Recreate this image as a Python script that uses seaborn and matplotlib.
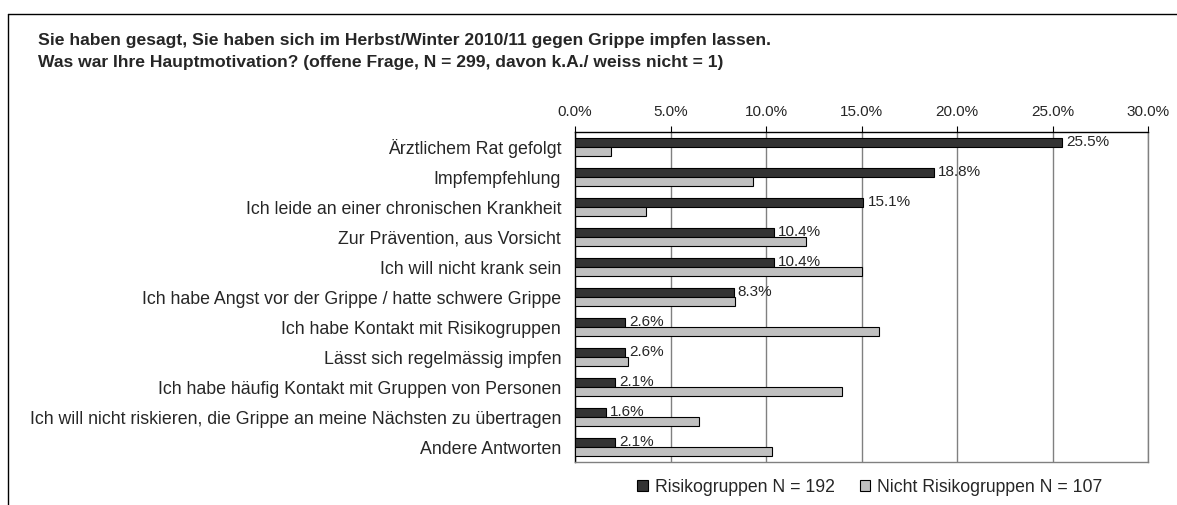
import numpy as np
import pandas as pd
import matplotlib
matplotlib.use('Agg')
import matplotlib.pyplot as plt
import seaborn as sns
from matplotlib.lines import Line2D
from matplotlib.ticker import FuncFormatter

# Daten
categories = [
    'Ärztlichem Rat gefolgt',
    'Impfempfehlung',
    'Ich leide an einer chronischen Krankheit',
    'Zur Prävention, aus Vorsicht',
    'Ich will nicht krank sein',
    'Ich habe Angst vor der Grippe / hatte schwere Grippe',
    'Ich habe Kontakt mit Risikogruppen',
    'Lässt sich regelmässig impfen',
    'Ich habe häufig Kontakt mit Gruppen von Personen',
    'Ich will nicht riskieren, die Grippe an meine Nächsten zu übertragen',
    'Andere Antworten',
]
risk = [25.5, 18.8, 15.1, 10.4, 10.4, 8.3, 2.6, 2.6, 2.1, 1.6, 2.1]
non_risk = [1.9, 9.3, 3.7, 12.1, 15.0, 8.4, 15.9, 2.8, 14.0, 6.5, 10.3]
groups = ['Risikogruppen N = 192', 'Nicht Risikogruppen N = 107']
xticks = [0, 5, 10, 15, 20, 25, 30]

title1 = 'Sie haben gesagt, Sie haben sich im Herbst/Winter 2010/11 gegen Grippe impfen lassen.'
title2 = 'Was war Ihre Hauptmotivation? (offene Frage, N = 299, davon k.A./ weiss nicht = 1)'

df = pd.DataFrame({
    'Antwort': categories * 2,
    'Gruppe': [groups[0]] * len(categories) + [groups[1]] * len(categories),
    'Prozent': risk + non_risk,
})

sns.set_style('white')
plt.rcParams['font.family'] = ['Liberation Sans', 'DejaVu Sans']

W, H = 1177, 505
fig = plt.figure(figsize=(W / 100, H / 100), dpi=100)
ax = fig.add_axes([575 / W, 1 - 462 / H, (1148 - 575) / W, (462 - 132) / H])

sns.barplot(data=df, y='Antwort', x='Prozent', hue='Gruppe', orient='h',
            palette=['#333333', '#c0c0c0'], edgecolor='black', linewidth=0.8,
            width=0.6, ax=ax, legend=True, zorder=3)

ax.set_xlim(0, 30)
ax.set_ylim(len(categories) - 0.5, -0.5)
ax.set_xlabel('')
ax.set_ylabel('')

# x-Achse oben
ax.xaxis.tick_top()
ax.set_xticks(xticks)
ax.xaxis.set_major_formatter(FuncFormatter(lambda v, p: f'{v:.1f}%'))
ax.tick_params(axis='x', direction='out', length=4, width=0.8, color='black',
               labelsize=11, pad=5)
ax.grid(axis='x', color='#808080', linewidth=1, zorder=0)
ax.grid(axis='y', visible=False)

# y-Achse: Labels ohne Ticks, Ticks an den Grenzen
ax.tick_params(axis='y', which='major', length=0, labelsize=12.8, pad=10)
ax.set_yticks(np.arange(-0.5, len(categories)), minor=True)
ax.tick_params(axis='y', which='minor', direction='out', length=5, width=0.8, color='black')

for s in ['top', 'left']:
    ax.spines[s].set_color('black')
    ax.spines[s].set_linewidth(1)
for s in ['bottom', 'right']:
    ax.spines[s].set_color('#808080')
    ax.spines[s].set_linewidth(1)
    ax.spines[s].set_visible(True)

# Werte an den dunklen Balken
ax.bar_label(ax.containers[0], fmt='%.1f%%', padding=3, fontsize=11, zorder=5)

# Legende
handles = [plt.Rectangle((0, 0), 1, 1, facecolor='#333333', edgecolor='black', linewidth=0.8),
           plt.Rectangle((0, 0), 1, 1, facecolor='#c0c0c0', edgecolor='black', linewidth=0.8)]
ax.legend(handles, groups, loc='center', bbox_to_anchor=(870 / W, 1 - 487 / H),
          bbox_transform=fig.transFigure, ncol=2, frameon=False, fontsize=12.7,
          handlelength=0.6, handleheight=0.6, handletextpad=0.4, columnspacing=1.4)

# Titel
fig.text(38 / W, 1 - 40 / H, title1, fontsize=12.6, fontweight='bold', va='center', ha='left')
fig.text(38 / W, 1 - 62 / H, title2, fontsize=12.6, fontweight='bold', va='center', ha='left')

# Rahmen
fig.add_artist(Line2D([7.5 / W, 1], [1 - 13.5 / H, 1 - 13.5 / H], color='black', linewidth=1,
                      transform=fig.transFigure))
fig.add_artist(Line2D([7.5 / W, 7.5 / W], [1 - 13.5 / H, 0], color='black', linewidth=1,
                      transform=fig.transFigure))

fig.savefig('out.png', dpi=100)
